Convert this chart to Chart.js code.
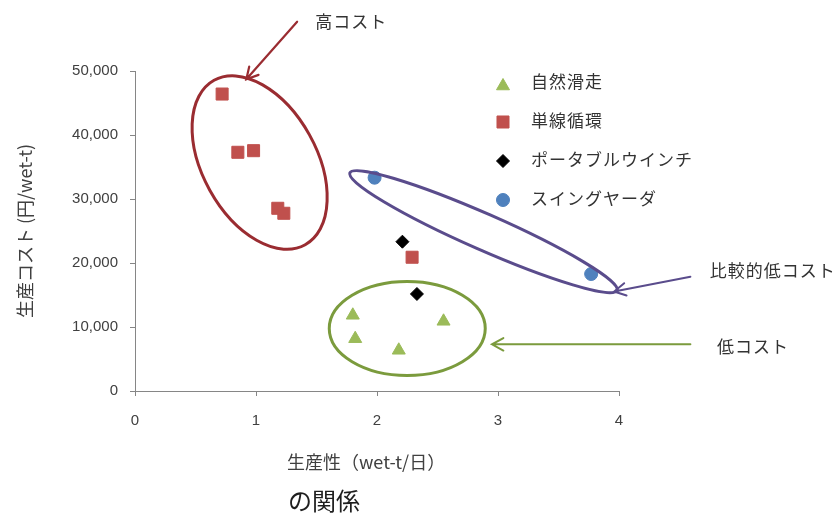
<!DOCTYPE html>
<html>
<head>
<meta charset="utf-8">
<script src="https://cdn.jsdelivr.net/npm/chart.js@4.4.1/dist/chart.umd.min.js"></script>
<style>
  html, body { margin: 0; padding: 0; background: #ffffff; }
  #wrap { width: 840px; height: 520px; position: relative; }
</style>
</head>
<body>
<div id="wrap"><canvas id="c" width="840" height="520"></canvas></div>
<script>
// Productivity (wet-t/day) vs production cost (yen/wet-t) by yarding method
const seriesNames = ['自然滑走', '単線循環', 'ポータブルウインチ', 'スイングヤーダ'];

const naturalX = [1.80, 1.82, 2.18, 2.55];
const naturalY = [11830, 8170, 6360, 10890];

const singleLineX = [0.72, 0.85, 0.98, 1.18, 1.23, 2.29];
const singleLineY = [46400, 37300, 37550, 28550, 27770, 20900];

const winchX = [2.21, 2.33];
const winchY = [23330, 15160];

const swingX = [1.98, 3.77];
const swingY = [33330, 18280];

const xTickMin = 0, xTickMax = 4, xTickStep = 1;
const yTickMin = 0, yTickMax = 50000, yTickStep = 10000;

const xTitle = '生産性（wet-t/日）';
const yTitle = '生産コスト (円/wet-t)';
const caption = 'の関係';

// Group outlines (centre in data units) with their pointer arrows and labels
const groupNotes = [
  { label: '高コスト', color: '#9a2c31', cx: 1.03, cy: 35700, rx: 94, ry: 57, rot: 61,
    from: [1.34, 57700], to: [0.92, 48700], textAt: [1.49, 57650], arrowWidth: 2.2 },
  { label: '比較的低コスト', color: '#5a4c8c', cx: 2.88, cy: 24890, rx: 146, ry: 18, rot: 23.75,
    from: [4.59, 17860], to: [3.96, 15550], textAt: [4.75, 18750], arrowWidth: 2 },
  { label: '低コスト', color: '#7b9b3d', cx: 2.25, cy: 9770, rx: 78, ry: 47, rot: 0,
    from: [4.59, 7300], to: [2.95, 7300], textAt: [4.81, 6950], arrowWidth: 2 }
];

const pts = (xs, ys) => xs.map((x, i) => ({ x: x, y: ys[i] }));

const cjk = '"Noto Sans CJK JP", "Noto Sans", sans-serif';
const latin = '"Liberation Sans", Arial, sans-serif';

function drawMarker(ctx, style, r, x, y, fill) {
  ctx.save();
  ctx.fillStyle = fill;
  ctx.strokeStyle = fill;
  ctx.lineWidth = 1;
  ctx.beginPath();
  if (style === 'triangle') {
    for (let k = 0; k < 3; k++) {
      const a = k * 2 * Math.PI / 3;
      const px = x + Math.sin(a) * r, py = y - Math.cos(a) * r;
      k ? ctx.lineTo(px, py) : ctx.moveTo(px, py);
    }
    ctx.closePath();
  } else if (style === 'rect') {
    const s = Math.SQRT1_2 * r;
    ctx.rect(x - s, y - s, 2 * s, 2 * s);
  } else if (style === 'rectRot') {
    ctx.moveTo(x, y - r); ctx.lineTo(x + r, y); ctx.lineTo(x, y + r); ctx.lineTo(x - r, y);
    ctx.closePath();
  } else {
    ctx.arc(x, y, r, 0, Math.PI * 2);
  }
  ctx.fill();
  ctx.stroke();
  ctx.restore();
}

// Legend drawn inside the plot area, one row per dataset
const innerLegend = {
  id: 'innerLegend',
  afterDatasetsDraw(chart) {
    const ctx = chart.ctx;
    const markerX = 503, textX = 531, firstRow = 82, gap = 39;
    chart.data.datasets.forEach((ds, i) => {
      const y = firstRow + i * gap;
      const my = ds.pointStyle === 'triangle' ? y + 4 : y + 1;
      drawMarker(ctx, ds.pointStyle, ds.pointRadius, markerX, my, ds.backgroundColor);
      ctx.save();
      ctx.font = '17px ' + cjk;
      ctx.letterSpacing = '1px';
      ctx.fillStyle = '#333333';
      ctx.textBaseline = 'middle';
      ctx.textAlign = 'left';
      ctx.fillText(ds.label, textX, y);
      ctx.restore();
    });
  }
};

// Outlines around each cost group, pointer arrows, and their labels
const groupOutlines = {
  id: 'groupOutlines',
  afterDatasetsDraw(chart) {
    const ctx = chart.ctx;
    const xs = chart.scales.x, ys = chart.scales.y;
    const px = v => xs.getPixelForValue(v);
    const py = v => ys.getPixelForValue(v);
    groupNotes.forEach(g => {
      ctx.save();
      ctx.strokeStyle = g.color;
      ctx.lineWidth = 3;
      ctx.beginPath();
      ctx.ellipse(px(g.cx), py(g.cy), g.rx, g.ry, g.rot * Math.PI / 180, 0, Math.PI * 2);
      ctx.stroke();

      const x0 = px(g.from[0]), y0 = py(g.from[1]);
      const x1 = px(g.to[0]), y1 = py(g.to[1]);
      ctx.lineWidth = g.arrowWidth;
      ctx.lineCap = 'round';
      ctx.beginPath();
      ctx.moveTo(x0, y0);
      ctx.lineTo(x1, y1);
      const ang = Math.atan2(y0 - y1, x0 - x1);
      const headLen = 13, spread = 0.5;
      ctx.moveTo(x1 + Math.cos(ang + spread) * headLen, y1 + Math.sin(ang + spread) * headLen);
      ctx.lineTo(x1, y1);
      ctx.lineTo(x1 + Math.cos(ang - spread) * headLen, y1 + Math.sin(ang - spread) * headLen);
      ctx.stroke();

      ctx.font = '17px ' + cjk;
      ctx.letterSpacing = '1px';
      ctx.fillStyle = '#333333';
      ctx.textBaseline = 'middle';
      ctx.textAlign = 'left';
      ctx.fillText(g.label, px(g.textAt[0]), py(g.textAt[1]));
      ctx.restore();
    });
  },
  afterDraw(chart) {
    const ctx = chart.ctx;
    ctx.save();
    // x-axis title, set slightly left of the plot centre
    ctx.font = '18px ' + cjk;
    ctx.fillStyle = '#404040';
    ctx.textBaseline = 'middle';
    ctx.textAlign = 'left';
    ctx.fillText(xTitle, 287, 462);
    // caption line under the chart
    ctx.font = '24px ' + cjk;
    ctx.fillStyle = '#1e1e1e';
    ctx.fillText(caption, 288, 501);
    ctx.restore();
  }
};

const whiteBackground = {
  id: 'whiteBackground',
  beforeDraw(chart) {
    const ctx = chart.ctx;
    ctx.save();
    ctx.fillStyle = '#ffffff';
    ctx.fillRect(0, 0, chart.width, chart.height);
    ctx.restore();
  }
};

const axisColor = '#868686';

new Chart(document.getElementById('c'), {
  type: 'scatter',
  data: {
    datasets: [
      { label: seriesNames[0], data: pts(naturalX, naturalY), pointStyle: 'triangle', pointRadius: 7.5,
        backgroundColor: '#9bbb59', borderColor: '#9bbb59', borderWidth: 1 },
      { label: seriesNames[1], data: pts(singleLineX, singleLineY), pointStyle: 'rect', pointRadius: 8.5,
        backgroundColor: '#c0504d', borderColor: '#c0504d', borderWidth: 1 },
      { label: seriesNames[2], data: pts(winchX, winchY), pointStyle: 'rectRot', pointRadius: 6.5,
        backgroundColor: '#000000', borderColor: '#000000', borderWidth: 1 },
      { label: seriesNames[3], data: pts(swingX, swingY), pointStyle: 'circle', pointRadius: 6.5,
        backgroundColor: '#4f81bd', borderColor: '#4f81bd', borderWidth: 1 }
    ]
  },
  options: {
    responsive: false,
    animation: false,
    devicePixelRatio: 1,
    locale: 'en-US',
    layout: { padding: { top: 71, right: 221, left: 0, bottom: 0 } },
    plugins: { legend: { display: false }, tooltip: { enabled: false } },
    scales: {
      x: {
        type: 'linear', min: xTickMin, max: xTickMax,
        ticks: { stepSize: xTickStep, padding: 16, color: '#404040', font: { family: latin, size: 15 } },
        grid: { drawOnChartArea: false, drawTicks: true, tickLength: 5, color: axisColor },
        border: { display: true, color: axisColor, width: 1 },
        title: { display: false },
        afterFit(scale) { scale.height = 129; }
      },
      y: {
        type: 'linear', min: yTickMin, max: yTickMax,
        ticks: { stepSize: yTickStep, padding: 12, color: '#404040', font: { family: latin, size: 15 } },
        grid: { drawOnChartArea: false, drawTicks: true, tickLength: 5, color: axisColor },
        border: { display: true, color: axisColor, width: 1 },
        title: { display: true, text: yTitle, color: '#404040', font: { family: cjk, size: 18 },
                 padding: { top: 14, bottom: 0 } },
        afterFit(scale) { scale.width = 135; }
      }
    }
  },
  plugins: [whiteBackground, groupOutlines, innerLegend]
});
</script>
</body>
</html>
